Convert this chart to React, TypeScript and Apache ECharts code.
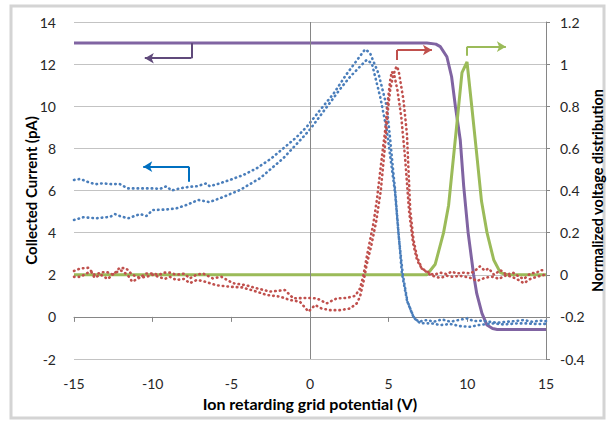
import React, { useEffect, useRef } from "react";
import * as echarts from "echarts";

// ---- data (x in V) ----
const xTicks = [-15, -10, -5, 0, 5, 10, 15];

// Purple: collected current (left axis, pA)
const purpleX = [-15, 7, 7.43, 8, 8.28, 8.7, 9.0, 9.24, 9.55, 9.77, 10.05, 10.4, 10.6, 10.93, 11.25, 11.6, 11.9, 15];
const purpleY = [13, 13, 13, 12.95, 12.83, 12.35, 11.4, 10.0, 8.4, 6.2, 4.0, 2.0, 1.1, 0.17, -0.39, -0.55, -0.6, -0.6];

// Green: normalized voltage distribution (right axis)
const greenX = [-15, 7.43, 7.96, 8.49, 8.81, 9.0, 9.34, 9.66, 9.98, 10.28, 10.6, 10.9, 11.25, 11.68, 12.1, 12.5, 15];
const greenY = [0, 0, 0.05, 0.2, 0.33, 0.47, 0.72, 0.96, 1.01, 0.8, 0.57, 0.35, 0.2, 0.07, 0.01, 0, 0];

// Blue dotted: collected current measurements (left axis)
const blueAX = [-15, -14.6, -14.0, -13.6, -13.17, -12.6, -12.1, -11.57, -11.0, -10.4, -9.9, -9.55, -9.13, -8.8, -8.28, -7.64, -7.2, -6.58, -6.37, -5.7, -5.1, -4.2, -3.4, -2.5, -1.7, -0.9, -0.2, 0.64, 1.5, 2.3, 3.0, 3.5, 3.8, 4.35, 4.88, 5.1, 5.3, 5.41, 5.63, 5.84, 6.16, 6.58, 6.9, 7.43, 7.86, 8.39, 8.92, 9.45, 9.98, 10.4, 10.93, 11.36, 11.89, 12.53, 13.06, 13.59, 14.12, 14.65, 15];
const blueAY = [6.5, 6.55, 6.37, 6.3, 6.34, 6.3, 6.31, 6.1, 6.1, 6.1, 6.1, 6.07, 6.2, 6.0, 6.1, 6.18, 6.2, 6.34, 6.2, 6.35, 6.5, 6.75, 7.05, 7.5, 8.0, 8.5, 9.03, 9.82, 10.6, 11.5, 12.2, 12.7, 12.55, 11.56, 9.98, 8.4, 6.82, 6.02, 3.97, 2.07, 0.8, 0.0, -0.23, -0.15, -0.23, -0.12, -0.23, -0.15, -0.07, -0.2, -0.18, -0.23, -0.28, -0.23, -0.2, -0.15, -0.23, -0.18, -0.2];
const blueBX = [-15, -14.4, -13.6, -12.7, -12.4, -12.1, -11.57, -10.8, -10.4, -10.0, -9.13, -8.5, -7.86, -7.1, -6.4, -5.73, -4.46, -3.18, -1.7, -0.42, 0, 1, 2, 2.55, 3.2, 3.6, 3.93, 4.46, 4.88, 5.41, 5.63, 5.9, 6.2, 6.6, 7.0, 7.75, 8.28, 8.92, 9.55, 10.19, 10.72, 11.68, 12.31, 13.17, 13.8, 14.44, 15];
const blueBY = [4.6, 4.73, 4.68, 4.75, 4.88, 4.79, 4.68, 4.88, 4.79, 5.07, 5.1, 5.15, 5.31, 5.55, 5.45, 5.63, 6.02, 6.58, 7.53, 8.55, 8.9, 9.9, 10.9, 11.4, 11.9, 12.2, 12.04, 10.45, 8.87, 5.87, 3.9, 2.0, 0.7, -0.05, -0.3, -0.31, -0.39, -0.34, -0.44, -0.47, -0.39, -0.31, -0.36, -0.31, -0.31, -0.34, -0.33];

// Red dotted: normalized voltage distribution measurements (right axis)
const redAX = [-15, -14.6, -14.1, -13.7, -13.3, -12.95, -12.5, -12.1, -11.68, -11.3, -10.83, -10.4, -10.0, -9.6, -9.24, -8.9, -8.5, -8.0, -7.64, -7.2, -6.8, -6.18, -5.62, -4.9, -4.05, -3.39, -2.55, -1.59, -1.06, -0.21, 0.43, 1.06, 1.7, 2.34, 2.87, 3.18, 3.4, 3.61, 3.82, 4.03, 4.25, 4.57, 4.78, 4.93, 5.1, 5.2, 5.35, 5.55, 5.8, 6.05, 6.3, 6.55, 6.8, 7.1, 7.85, 8.28, 8.7, 9.0, 9.34, 9.8, 10.2, 10.5, 10.8, 11.1, 11.36, 11.7, 12.1, 12.5, 12.9, 13.3, 13.6, 14.0, 14.4, 14.65, 15];
const redAY = [0.018, 0.03, 0.033, 0.0, 0.01, 0.014, 0.0, 0.033, 0.03, 0.0, -0.014, 0.006, 0.006, 0.0, 0.01, 0.01, 0.0, 0.005, -0.017, 0.0, 0.006, -0.017, -0.01, -0.04, -0.05, -0.064, -0.08, -0.073, -0.112, -0.11, -0.112, -0.136, -0.112, -0.11, -0.1, -0.065, -0.001, 0.086, 0.165, 0.244, 0.355, 0.56, 0.687, 0.814, 0.925, 0.964, 0.95, 0.88, 0.75, 0.55, 0.3, 0.15, 0.07, 0.03, -0.001, 0.01, 0.003, 0.015, 0.006, 0.01, 0.006, 0.02, 0.04, 0.02, 0.03, 0.0, 0.022, 0.0, 0.01, -0.01, -0.02, 0.006, 0.01, 0.022, 0.02];
const redBX = [-15, -14.6, -14.1, -13.9, -13.7, -13.3, -12.85, -12.4, -12.0, -11.6, -11.3, -10.83, -10.4, -10.0, -9.6, -9.24, -8.9, -8.5, -8.0, -7.64, -7.2, -6.8, -5.94, -5.1, -4.3, -3.4, -2.76, -1.9, -1.27, -0.64, -0.1, 0.32, 0.74, 1.27, 1.9, 2.55, 2.97, 3.18, 3.4, 3.61, 3.9, 4.2, 4.5, 4.75, 4.95, 5.1, 5.3, 5.5, 5.63, 5.94, 6.16, 6.37, 6.58, 6.8, 7.1, 7.64, 8.0, 8.28, 8.7, 9.1, 9.5, 9.9, 10.3, 10.6, 11.04, 11.4, 11.68, 12.0, 12.5, 13.06, 13.6, 14.0, 14.4, 14.86, 15];
const redBY = [-0.01, -0.01, 0.01, 0.014, -0.014, 0.0, -0.02, 0.01, 0.02, 0.0, -0.033, -0.014, -0.01, 0.0, -0.01, -0.02, -0.01, -0.025, -0.02, -0.04, -0.025, -0.03, -0.05, -0.057, -0.06, -0.08, -0.096, -0.104, -0.12, -0.128, -0.175, -0.144, -0.16, -0.168, -0.168, -0.16, -0.136, -0.104, -0.033, 0.05, 0.14, 0.25, 0.4, 0.6, 0.78, 0.88, 0.95, 0.99, 0.97, 0.83, 0.67, 0.307, 0.165, 0.086, 0.03, 0.0, -0.01, -0.015, -0.005, -0.01, -0.005, -0.01, -0.017, -0.03, -0.017, -0.01, -0.01, -0.02, -0.001, -0.017, -0.04, -0.02, -0.01, -0.001, 0.01];

const zip = (xs: number[], ys: number[]) => xs.map((x, i) => [x, ys[i]]);

const FONT = "Lato, 'Open Sans', sans-serif";
const AXIS_GRAY = "#868686";

const dotted = (color: string) => ({
  color,
  width: 2.6,
  type: [0.5, 4.2],
  cap: "round",
});

const arrow = (pts: number[][], color: string) => [
  [
    { coord: pts[0], symbol: "none", lineStyle: { color, width: 2, type: "solid" } },
    { coord: pts[1], symbol: "none" },
  ],
  [
    { coord: pts[1], symbol: "none", lineStyle: { color, width: 2, type: "solid" } },
    { coord: pts[2], symbol: "arrow", symbolSize: [8, 9] },
  ],
];

export default function App() {
  const ref = useRef<HTMLDivElement>(null);
  useEffect(() => {
    if (!ref.current) return;
    const chart = echarts.init(ref.current, null, { renderer: "svg" });
    const mlBase = {
      silent: true,
      animation: false,
      symbol: ["none", "none"],
      label: { show: false },
      emphasis: { disabled: true },
    };
    const nameStyle = { fontSize: 15, fontWeight: "bold", color: "#000", fontFamily: FONT };
    chart.setOption({
      animation: false,
      backgroundColor: "#ffffff",
      textStyle: { fontFamily: FONT },
      grid: { left: 74, right: 62, top: 22, bottom: 62, containLabel: false, outerBoundsMode: "none" },
      graphic: [
        {
          type: "rect",
          shape: { x: 11, y: 6, width: 593, height: 412 },
          style: { fill: "none", stroke: "#d4d4d4", lineWidth: 3 },
          silent: true,
          z: -10,
        },
      ],
      xAxis: [
        {
          type: "value",
          min: -15,
          max: 15,
          interval: 5,
          axisLine: { show: true, onZero: true, lineStyle: { color: AXIS_GRAY, width: 1 } },
          axisTick: { show: true, length: 5, lineStyle: { color: AXIS_GRAY } },
          axisLabel: { show: false },
          splitLine: { show: false },
        },
        {
          type: "value",
          min: -15,
          max: 15,
          interval: 5,
          position: "bottom",
          axisLine: { show: false, onZero: false },
          axisTick: { show: false },
          splitLine: { show: false },
          axisLabel: {
            margin: 17,
            fontSize: 14,
            color: "#262626",
            fontFamily: FONT,
            customValues: xTicks,
          },
          name: "Ion retarding grid potential (V)",
          nameLocation: "middle",
          nameGap: 36,
          nameMoveOverlap: false,
          nameTextStyle: { ...nameStyle, fontSize: 16 },
        },
      ],
      yAxis: [
        {
          type: "value",
          position: "left",
          min: -2,
          max: 14,
          interval: 2,
          axisLine: { show: false, onZero: false },
          axisTick: { show: false },
          axisLabel: { margin: 18, fontSize: 14, color: "#262626", fontFamily: FONT },
          splitLine: { show: true, lineStyle: { color: "#c3c3c3", width: 1 } },
          name: "Collected Current (pA)",
          nameLocation: "middle",
          nameGap: 36,
          nameRotate: 90,
          nameMoveOverlap: false,
          nameTextStyle: nameStyle,
        },
        {
          type: "value",
          position: "right",
          min: -0.4,
          max: 1.2,
          interval: 0.2,
          axisLine: { show: true, onZero: false, lineStyle: { color: AXIS_GRAY, width: 1 } },
          axisTick: { show: true, length: 4, lineStyle: { color: AXIS_GRAY } },
          axisLabel: {
            margin: 14,
            fontSize: 14,
            color: "#262626",
            fontFamily: FONT,
            formatter: (v: number) => String(Math.round(v * 10) / 10),
          },
          splitLine: { show: false },
          name: "Normalized voltage distribution",
          nameLocation: "middle",
          nameGap: 44,
          nameRotate: 90,
          nameMoveOverlap: false,
          nameTextStyle: { ...nameStyle, fontSize: 14.5 },
        },
      ],
      series: [
        {
          name: "Current (model)",
          type: "line",
          xAxisIndex: 0,
          yAxisIndex: 0,
          data: zip(purpleX, purpleY),
          showSymbol: false,
          lineStyle: { color: "#8064A2", width: 3 },
          z: 2,
          markLine: {
            ...mlBase,
            data: [
              { xAxis: 0, lineStyle: { color: AXIS_GRAY, width: 1, type: "solid" } },
              ...arrow([[-7.54, 13], [-7.54, 12.28], [-10.5, 12.28]], "#604A7B"),
            ],
          },
        },
        {
          name: "Voltage distribution (model)",
          type: "line",
          xAxisIndex: 0,
          yAxisIndex: 1,
          data: zip(greenX, greenY),
          showSymbol: false,
          lineStyle: { color: "#9BBB59", width: 3 },
          z: 3,
          markLine: {
            ...mlBase,
            data: arrow([[9.98, 1.04], [9.98, 1.083], [12.45, 1.083]], "#9BBB59"),
          },
        },
        {
          name: "Current 1",
          type: "line",
          xAxisIndex: 0,
          yAxisIndex: 0,
          data: zip(blueAX, blueAY),
          showSymbol: false,
          lineStyle: dotted("#4A7EBB"),
          z: 4,
          markLine: {
            ...mlBase,
            data: arrow([[-7.69, 6.42], [-7.69, 7.13], [-10.6, 7.13]], "#0070C0"),
          },
        },
        {
          name: "Current 2",
          type: "line",
          xAxisIndex: 0,
          yAxisIndex: 0,
          data: zip(blueBX, blueBY),
          showSymbol: false,
          lineStyle: dotted("#4A7EBB"),
          z: 4,
        },
        {
          name: "Voltage 1",
          type: "line",
          xAxisIndex: 0,
          yAxisIndex: 1,
          data: zip(redAX, redAY),
          showSymbol: false,
          lineStyle: dotted("#C0504D"),
          z: 5,
          markLine: {
            ...mlBase,
            data: arrow([[5.54, 1.02], [5.54, 1.067], [7.75, 1.067]], "#C0504D"),
          },
        },
        {
          name: "Voltage 2",
          type: "line",
          xAxisIndex: 0,
          yAxisIndex: 1,
          data: zip(redBX, redBY),
          showSymbol: false,
          lineStyle: dotted("#C0504D"),
          z: 5,
        },
      ],
    });
    return () => chart.dispose();
  }, []);
  return (
    <div
      ref={ref}
      style={{ position: "fixed", left: 0, top: 0, width: 608, height: 421, background: "#fff" }}
    />
  );
}
